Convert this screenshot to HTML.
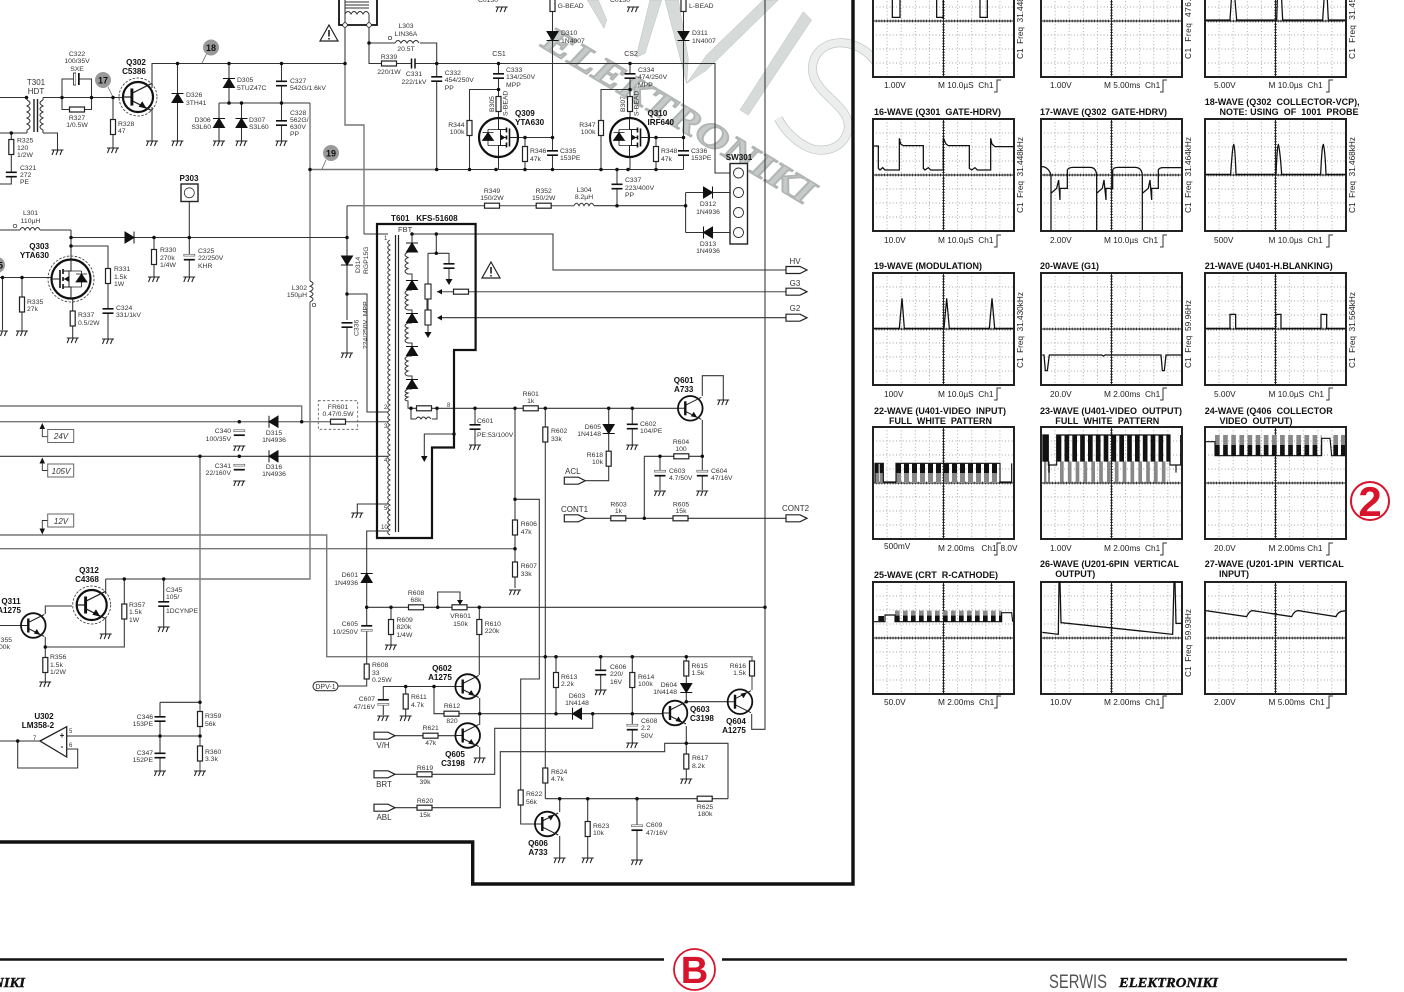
<!DOCTYPE html>
<html><head><meta charset="utf-8"><style>
html,body{margin:0;padding:0;background:#fff}
svg{display:block;filter:blur(.3px)}
text{font-family:"Liberation Sans",sans-serif;white-space:pre;fill:#333;font-size:6.8px}
.b{font-weight:bold;font-size:8.1px;fill:#111}
.c{text-anchor:middle}
.e{text-anchor:end}
.n{font-size:8px}
.w{font-weight:bold;font-size:9px;fill:#111}
.s{font-size:8.3px;fill:#222}
.p{font-size:6px}
</style></head><body>
<svg width="1404" height="992" viewBox="0 0 1404 992" xmlns="http://www.w3.org/2000/svg">
<defs>
<g id="gnd" fill="none" stroke="#222" stroke-width="1.05"><path d="M-6 0H6M-3.5 0L-5.5 5M.5 0L-1.5 5M4.5 0L2.5 5"/></g>
<rect id="rv" x="-2.5" y="-7.5" width="5" height="15" fill="#fff" stroke="#222" stroke-width="1.2"/>
<rect id="rh" x="-7.5" y="-2.5" width="15" height="5" fill="#fff" stroke="#222" stroke-width="1.2"/>
<g id="cp"><rect x="-5.5" y="-2.2" width="11" height="4.4" fill="#fff"/><path d="M-5.5 -2.2H5.5M-5.5 2.2H5.5" stroke="#111" stroke-width="1.6" fill="none"/></g>
<g id="ce"><rect x="-5.5" y="-3.5" width="11" height="6" fill="#fff"/><rect x="-5.5" y="-3.2" width="11" height="1.8" fill="#fff" stroke="#666" stroke-width=".7"/><path d="M-5.5 2.2H5.5" stroke="#111" stroke-width="1.7"/></g>
<path id="du" d="M-5.5 4.5H5.5L0 -4.5ZM-6 -4.5H6" fill="#111" stroke="#111" stroke-width="1"/>
<path id="dd" d="M-5.5 -4.5H5.5L0 4.5ZM-6 4.5H6" fill="#111" stroke="#111" stroke-width="1"/>
<path id="dr" d="M-4.5 -5.5V5.5L4.5 0ZM4.5 -6V6" fill="#111" stroke="#111" stroke-width="1"/>
<path id="dl" d="M4.5 -5.5V5.5L-4.5 0ZM-4.5 -6V6" fill="#111" stroke="#111" stroke-width="1"/>
<g id="q"><circle r="12.3" fill="#fff" stroke="#111" stroke-width="1.8"/><path d="M-12 0H-5M-5 -3L11 -11M-5 3L11 11" stroke="#222" stroke-width="1" fill="none"/><path d="M-5 -7V7" stroke="#111" stroke-width="2.4"/><path d="M7 9.5L.5 8L3.5 3.5Z" fill="#111"/></g>
<g id="f"><circle r="19.5" fill="#fff" stroke="#111" stroke-width="2.2"/><path d="M0 -19V-8H8M0 19V8H8M8 0H2V8M2 -8V0" stroke="#222" stroke-width="1" fill="none"/><path d="M8 -10V-5M8 -2V2M8 5V10M11 -9V9" stroke="#111" stroke-width="1.6" fill="none"/><path d="M11 0H19" stroke="#222"/><path d="M2 -3V3L7 0Z" fill="#111"/><path d="M-16 3H-5L-10.5 -5ZM-16 -5H-5M-10.5 -8V8" fill="#111" stroke="#111" stroke-width=".8"/><path d="M-10.5 -8H0M-10.5 8H0" stroke="#222" stroke-width=".8"/></g>
<path id="tg" d="M0 -3.5H14L21 0 14 3.5H0Z" fill="#fff" stroke="#222" stroke-width="1.2"/>
<path id="c5" d="M0 0q-4.5 2.5 0 5q-4.5 2.5 0 5q-4.5 2.5 0 5q-4.5 2.5 0 5q-4.5 2.5 0 5" fill="none" stroke="#333" stroke-width="1"/>
<g id="warn"><path d="M0 -8L9 8H-9Z" fill="#fff" stroke="#222" stroke-width="1.2"/><path d="M0 -3V3.5M0 5V6.5" stroke="#111" stroke-width="1.5"/></g>
<g id="sc">
<rect x="0" y="0" width="141" height="112" fill="#fff"/>
<path d="M14.1 0V112M28.2 0V112M42.3 0V112M56.4 0V112M84.6 0V112M98.7 0V112M112.8 0V112M126.9 0V112M0 14H141M0 28H141M0 42H141M0 70H141M0 84H141M0 98H141" stroke="#999" stroke-width=".9" stroke-dasharray=".9 2.4" fill="none"/>
<path d="M70.5 0V112M0 56H141" stroke="#222" stroke-width="1" fill="none"/>
<path d="M70.5 0V112M0 56H141" stroke="#222" stroke-width="2.8" stroke-dasharray=".8 2" fill="none"/>
<rect x="0" y="0" width="141" height="112" fill="none" stroke="#222" stroke-width="2"/>
</g>
<path id="trg" d="M0 12H3V0H7" fill="none" stroke="#333" stroke-width="1"/>
</defs>

<!-- watermark -->
<g transform="translate(530 0) scale(.3333)" fill="#d6dad8" stroke="#b9bebc" stroke-width="1.5">
<path d="M172 0L222 85L230 60L205 0Z"/>
<path d="M360 0H395L345 160L318 172Z"/>
<path d="M405 0H445L475 175L470 250Z"/>
<path d="M470 250L530 165L700 0H745L530 210Z"/>
<path d="M630 330L820 35L845 60L655 345Z"/>
<path d="M1040 190C1000 130 930 115 885 140C845 165 835 215 865 255C895 300 960 330 955 385C945 445 880 465 830 440C790 420 760 385 745 355" fill="none" stroke="#bfc4c2" stroke-width="27"/>
<path d="M1040 190C1000 130 930 115 885 140C845 165 835 215 865 255C895 300 960 330 955 385C945 445 880 465 830 440C790 420 760 385 745 355" fill="none" stroke="#eceeed" stroke-width="23"/>
</g>
<text x="540" y="46" transform="rotate(31 540 46)" textLength="310" lengthAdjust="spacingAndGlyphs" style="font-family:'Liberation Serif',serif;font-weight:bold;font-style:italic;font-size:36px;fill:#c6cbc9;stroke:#b0b5b3;stroke-width:1.6">ELEKTRONIKI</text>

<!-- grey bus wires -->
<path fill="none" stroke="#777" stroke-width="1.4" d="M0 406H301.7V421.7M0 421.7H388M0 535H326.7V656.7H752V690M0 548.7H515M200 456.3V771M66.7 736H200M437 291.7H786M310 103V281M310 302V579H105.7M310 169.5H436.7M347 205.7H574M345 63.5V125H364V234"/>
<!-- wires -->
<path fill="none" stroke="#333" stroke-width="1.05" d="
M0 97.5H27M43 97.5H113M0 133H27M43 133H57.5V151M11.3 133V184H0
M62 97.5V109.5H91.5V97.5M62 97.5V79H91.5V97.5
M113 97.5H123M113 97.5V148
M152 88V63.5H345M152 107V141
M177.5 63.5V141M229 63.5V103M219 103H310M219 103V141M241.5 103V141M281.5 63.5V141
M345 0V63.5M364 234H388
M369 25V63.5H437M369 43H395M420 43H437M436.7 42.7V169.5
M436.7 169.5H683.5
M436.7 63.5H715V173H730
M498.5 63.5V130M498.5 89.5H469.5V169.5M498.5 150V169.5M516 137.5H552.5M525 137.5V169.5M552.5 0V169.5
M630 63.5V130M630 89.5H601V169.5M630 150V169.5M648 137.5H683.5M656 137.5V169.5M683.5 0V169.5
M617 169.5V205.7M574 205.7H574M594 205.7H685.6M347 205.7V320M347 327V353
M685.6 192.5V232.5M685.6 192.5H733M685.6 232.5H733
M71 230V279M0 230H20M40 230H71M71 246H108V340M71 237.5H347M189.3 198V277M154 237.5V277
M0 277.5H55M2.5 277.5V330M22 277.5V331M72.7 298V338
M347 294H367V412H388
M412 234H553V270H786M412 234V243
M436.3 234V253.3M428 253.3H449V280M428 253.3V332
M438 317.7H786
M437 408.3H678M411 408.3H437M411 408.3V419H416M432 419H437V408.3
M475 408.3V447M515 408.3V588M515 499.3H539.3V679H520.7V824H535M545.3 408.3V798.7
M608.7 408.3V480.7H585.7M632.3 408.3V446
M702.3 396V375.7H723.3V400M702.3 420V490M644.3 456.3H702.3M660 456.3V490M644.3 456.3V518.3M585 518.3H786
M454 434H424.3V456
M0 456.3H388
M160 702.3H200M160 702.3V771
M0 741H40M17.7 741V768H77.7V749H66.7
M0 625.5H21M45.3 614V606H72M45.3 637V682M45.3 647H124.3V579M105.7 579V594M105.7 617V634M163.7 579V627
M388 504H357.3V513M388 531H366.7V686H338
M366.7 607.3H765M765 0V729.3H751.7V714M391 607.3V645M437.7 607.3V592H460V604
M479.3 607.3V675M479.7 698V725M479.7 747V758
M455 686.5H383.3V715M405.7 686.5V716M434 686.5V713.7H592.7M395 735.7H455
M395 774.3H494.7V728.3H592.7V713.7M395 807.7H500.3V751.7H664.7V743.3H728V798.7
M592.7 713.7H663M556 656.7V713.7M600.7 656.7V690M632.3 656.7V743M686.3 656.7V701.7H727.7M686.3 726V779
M545.3 798.7H728M559.7 798.7V812M559.7 836V858M587.7 798.7V858M637 798.7V860
M427 299V310"/>
<!-- inductors -->
<path fill="none" stroke="#333" stroke-width="1" d="M20 230q2.5 -5 5 0q2.5 -5 5 0q2.5 -5 5 0q2.5 -5 5 0
M395 43q3 -5 6 0q3 -5 6 0q3 -5 6 0q3 -5 6 0
M574 205.7q2.5 -5 5 0q2.5 -5 5 0q2.5 -5 5 0q2.5 -5 5 0
M416 419q2.5 -4 5 0q2.5 -4 5 0q2.5 -4 5 0
M310 281q6 2.6 0 5.2q6 2.6 0 5.2q6 2.6 0 5.2q6 2.6 0 5.2
M412 252H408q-6 3 0 5.5q-6 3 0 5.5q-6 3 0 5.5q-6 3 0 5.5H412V280
M412 290H408q-6 3 0 5q-6 3 0 5q-6 3 0 5q-6 3 0 5H412V313
M412 323H408q-6 3 0 5q-6 3 0 5q-6 3 0 5q-6 3 0 5H412V346
M412 356H408q-6 3 0 5q-6 3 0 5q-6 3 0 5q-6 3 0 5H412V379
M412 389H408q-6 3 0 4q-6 3 0 4q-6 3 0 4V408.3H411
M27 100q6 3 0 6q6 3 0 6q6 3 0 6q6 3 0 6q6 3 0 6
M43 100q-6 3 0 6q-6 3 0 6q-6 3 0 6q-6 3 0 6q-6 3 0 6
M27 97.5V100M27 130V133M43 97.5V100M43 130V133"/>
<path d="M34 99V132M37.5 99V132" stroke="#222" stroke-width="1.4" fill="none"/>
<use href="#c5" x="390" y="240"/><use href="#c5" x="390" y="265"/><use href="#c5" x="390" y="290"/><use href="#c5" x="390" y="315"/><use href="#c5" x="390" y="340"/><use href="#c5" x="390" y="365"/><use href="#c5" x="390" y="390"/><use href="#c5" x="390" y="415"/><use href="#c5" x="390" y="440"/><use href="#c5" x="390" y="465"/><use href="#c5" x="390" y="490"/><use href="#c5" x="390" y="510"/>
<path d="M395.5 235V532M398.5 235V532" stroke="#222" stroke-width="1.2" fill="none"/>
<circle cx="15" cy="226" r="1.7" fill="#fff" stroke="#333" stroke-width=".7"/><circle cx="390" cy="38" r="1.7" fill="#fff" stroke="#333" stroke-width=".7"/><circle cx="314" cy="305" r="1.7" fill="#fff" stroke="#333" stroke-width=".7"/>

<!-- frames -->
<path d="M377 224H475.6V350H454V447.5H432V538H377Z" fill="none" stroke="#111" stroke-width="2.2"/>
<path d="M0 842H472.7V884H853V0" fill="none" stroke="#111" stroke-width="3.4"/>
<path d="M339 -5V25H377V-5" fill="none" stroke="#111" stroke-width="1.8"/>
<path d="M345 2H369M345 5H369M345 8H369" stroke="#333" stroke-width=".9"/>
<path d="M345 25V14q3 -5 6 0q3 -5 6 0q3 -5 6 0q3 -5 6 0V25" fill="none" stroke="#333" stroke-width="1"/>
<circle cx="345" cy="25" r="2.3" fill="#fff" stroke="#222" stroke-width=".8"/><circle cx="369" cy="25" r="2.3" fill="#fff" stroke="#222" stroke-width=".8"/>
<rect x="318.3" y="400.7" width="39.4" height="28.6" fill="none" stroke="#555" stroke-width=".8" stroke-dasharray="2.5 2"/>
<use href="#warn" x="329" y="33"/><use href="#warn" x="491" y="270"/>

<!-- P303 & SW301 -->
<rect x="181" y="184" width="17" height="17.5" fill="#fff" stroke="#222" stroke-width="1.4"/><circle cx="189.3" cy="192.8" r="5" fill="#fff" stroke="#333" stroke-width=".8"/>
<rect x="730" y="163.5" width="17.5" height="80.5" fill="#fff" stroke="#222" stroke-width="1.4"/>
<g fill="#fff" stroke="#333" stroke-width=".9"><circle cx="738.5" cy="173" r="5"/><circle cx="738.5" cy="192.5" r="5"/><circle cx="738.5" cy="212.5" r="5"/><circle cx="738.5" cy="232.5" r="5"/></g>

<!-- U302 -->
<path d="M40 741L66.7 726.7V757Z" fill="#fff" stroke="#222" stroke-width="1.3"/>

<!-- resistors -->
<use href="#rv" x="11.3" y="147"/><use href="#rh" x="77" y="109.5"/><use href="#rv" x="113" y="127"/><use href="#rh" x="389" y="63.5"/>
<use href="#rv" x="469.5" y="128"/><use href="#rv" x="498.5" y="104"/><use href="#rv" x="525" y="154"/>
<use href="#rv" x="601" y="128"/><use href="#rv" x="630" y="104"/><use href="#rv" x="656" y="154"/>
<use href="#rh" x="492" y="205.7"/><use href="#rh" x="543.7" y="205.7"/>
<use href="#rv" x="154" y="257"/><use href="#rv" x="108" y="276"/><use href="#rv" x="22" y="304.5"/><use href="#rv" x="72.7" y="318.5"/>
<use href="#rv" x="552.5" y="4"/><use href="#rv" x="683.5" y="4"/>
<rect x="425" y="284" width="6" height="15" fill="#fff" stroke="#222" stroke-width="1.1"/><rect x="425" y="310" width="6" height="15" fill="#fff" stroke="#222" stroke-width="1.1"/>
<use href="#rh" x="461" y="291.7"/><use href="#rh" x="424" y="408.3"/><use href="#rh" x="338" y="421.7"/>
<use href="#rh" x="530.7" y="408.3"/><use href="#rv" x="545.3" y="434.5"/><use href="#rv" x="608.7" y="458.7"/><use href="#rh" x="681.3" y="456.3"/><use href="#rh" x="618.3" y="518.3"/><use href="#rh" x="680.5" y="518.3"/>
<use href="#rv" x="515" y="527.5"/><use href="#rv" x="515" y="569.5"/>
<use href="#rh" x="416" y="607.3"/><use href="#rh" x="459.5" y="607.3"/><use href="#rv" x="391" y="627"/><use href="#rv" x="479.3" y="627"/><use href="#rv" x="366.7" y="671.5"/>
<use href="#rv" x="405.7" y="701.5"/><use href="#rh" x="451.5" y="713.7"/><use href="#rh" x="430.5" y="735.7"/><use href="#rh" x="424.5" y="774.3"/><use href="#rh" x="424.5" y="807.7"/>
<use href="#rv" x="556" y="680"/><use href="#rv" x="632.3" y="680"/><use href="#rv" x="686.3" y="668.5"/><use href="#rv" x="752" y="668.5"/><use href="#rv" x="686.3" y="761.5"/>
<use href="#rv" x="545.3" y="775.5"/><use href="#rv" x="520.7" y="797.5"/><use href="#rv" x="587.7" y="829"/><use href="#rh" x="704.7" y="798.7"/>
<use href="#rv" x="124.3" y="611.5"/><use href="#rv" x="45.3" y="665"/><use href="#rv" x="200" y="719"/><use href="#rv" x="200" y="753.5"/>

<!-- caps -->
<rect x="73.5" y="73" width="2.5" height="12" fill="#fff" stroke="#222" stroke-width=".8"/><rect x="78" y="73" width="1.7" height="12" fill="#111"/>
<rect x="76" y="71" width="2" height="16" fill="#fff"/>
<rect x="411" y="60" width="4" height="7" fill="#fff"/><path d="M411.5 58.5V68.5M415 58.5V68.5" stroke="#111" stroke-width="1.5"/>
<use href="#cp" x="11.3" y="174.5"/><use href="#cp" x="281.5" y="83.5"/><use href="#cp" x="281.5" y="123"/><use href="#cp" x="436.7" y="79"/><use href="#cp" x="498.5" y="76"/><use href="#cp" x="630" y="76"/><use href="#cp" x="552.5" y="153"/><use href="#cp" x="683.5" y="153"/><use href="#cp" x="617" y="186.5"/>
<use href="#cp" x="108" y="311"/><use href="#ce" x="189.3" y="257.5"/><use href="#cp" x="347" y="325"/><use href="#cp" x="449" y="266"/>
<use href="#cp" x="475" y="427"/><use href="#cp" x="632.3" y="426.5"/><use href="#ce" x="660" y="473.5"/><use href="#ce" x="702.3" y="473.5"/>
<use href="#ce" x="366.7" y="628" transform="rotate(180 366.7 628)"/><use href="#ce" x="383.3" y="702" transform="rotate(180 383.3 702)"/><use href="#cp" x="600.7" y="672.5"/><use href="#ce" x="632.3" y="727.5"/><use href="#ce" x="637" y="828"/>
<use href="#ce" x="239.3" y="433"/><use href="#ce" x="239.3" y="467.5"/><use href="#cp" x="163.7" y="604"/><use href="#cp" x="160" y="719"/><use href="#cp" x="160" y="755.5"/>

<!-- diodes -->
<use href="#du" x="177.5" y="98"/><use href="#du" x="229" y="83"/><use href="#du" x="219" y="123"/><use href="#du" x="241.5" y="123"/>
<use href="#dd" x="552.5" y="36"/><use href="#dd" x="683.5" y="36"/><use href="#dr" x="129.5" y="237.5"/><use href="#dd" x="347" y="260.5"/>
<use href="#dr" x="708" y="192.5"/><use href="#dl" x="708" y="232.5"/>
<use href="#du" x="412" y="247.5"/><use href="#du" x="412" y="285"/><use href="#du" x="412" y="318"/><use href="#du" x="412" y="351"/><use href="#du" x="412" y="384"/>
<use href="#dd" x="608.7" y="429"/><use href="#du" x="366.7" y="578"/><use href="#dl" x="577" y="713.7"/><use href="#dd" x="686.3" y="688"/>
<use href="#dl" x="273.5" y="421.7"/><use href="#dl" x="273.5" y="456.3"/>

<!-- transistors -->
<circle cx="138" cy="97" r="19" fill="none" stroke="#333" stroke-width=".8" stroke-dasharray="2.5 1.5"/>
<use href="#q" transform="translate(138 97) scale(1.22)"/>
<circle cx="91.7" cy="605" r="19" fill="none" stroke="#333" stroke-width=".8" stroke-dasharray="2.5 1.5"/>
<use href="#q" transform="translate(91.7 605) scale(1.22)"/>
<circle cx="71" cy="279" r="23" fill="none" stroke="#333" stroke-width=".8" stroke-dasharray="2.5 1.5"/>
<use href="#f" transform="translate(71 279) scale(-1 1)"/>
<use href="#f" x="498.5" y="137.5"/><use href="#f" x="629.5" y="137.5"/>
<use href="#q" x="690.3" y="408.3"/><use href="#q" x="467.7" y="686.5"/><use href="#q" x="467.7" y="735.5"/><use href="#q" x="675" y="713"/>
<use href="#q" transform="translate(740 701.7) scale(1 -1)"/><use href="#q" transform="translate(547.3 824) scale(1 -1)"/><use href="#q" x="33.3" y="625.5"/>

<!-- arrows -->
<g fill="#111">
<path d="M437 291.7L442 289V294.5Z"/><path d="M437 317.7L442 315V320.5Z"/><path d="M449 285L445.5 279H452.5Z"/><path d="M428 338L424.5 332H431.5Z"/><path d="M424.3 462L421 456H427.5Z"/><path d="M460 605L457 600H463Z"/>
<path d="M42.3 423L39.5 429H45Z"/><path d="M42.3 457.5L39.5 463.5H45Z"/><path d="M42.3 534.5L39.5 528.5H45Z"/>
</g>
<path d="M42.3 428V436.7H47.7M42.3 463V470.5H47.7M42.3 529V520.5H47.7" fill="none" stroke="#333" stroke-width=".9"/>
<g fill="#fff" stroke="#666" stroke-width="1"><rect x="47.7" y="429.5" width="26" height="13"/><rect x="47.7" y="464" width="26" height="13"/><rect x="47.7" y="514" width="26" height="13"/></g>
<use href="#tg" x="786" y="270"/><use href="#tg" x="786" y="291.7"/><use href="#tg" x="786" y="317.7"/><use href="#tg" x="564.3" y="480.7"/><use href="#tg" x="564.3" y="518.3"/><use href="#tg" x="786" y="518.3"/><use href="#tg" x="374" y="735.7"/><use href="#tg" x="374" y="774.3"/><use href="#tg" x="374" y="807.7"/>
<rect x="313" y="681.7" width="25" height="9" rx="4.5" fill="#fff" stroke="#222" stroke-width="1"/>

<!-- bubbles -->
<path d="M108 87L113 97M207 53L202 63M326 160L322 169" stroke="#666" stroke-width=".8"/>
<circle cx="103" cy="80" r="8" fill="#999"/><circle cx="211" cy="47.5" r="8" fill="#999"/><circle cx="331" cy="153" r="8" fill="#999"/><circle cx="-3" cy="265" r="8" fill="#999"/>
<text class="b c" x="103" y="83.5" style="font-size:9px">17</text><text class="b c" x="211" y="51" style="font-size:9px">18</text><text class="b c" x="331" y="156.5" style="font-size:9px">19</text><text class="b" x="-2" y="268.5" style="font-size:9px">5</text>

<!-- dots -->
<path fill="none" stroke="#111" stroke-width="3.5" stroke-linecap="round" d="M26.5 97.5h0M62 97.5h0M91.5 97.5h0M113 97.5h0M11.3 133h0M177.5 63.5h0M229 63.5h0M281.5 63.5h0M345 63.5h0M229 103h0M241.5 103h0M281.5 103h0M310 169.5h0M369 43h0M436.7 63.5h0M436.7 169.5h0M498.5 63.5h0M498.5 89.5h0M469.5 169.5h0M496 169.5h0M525 169.5h0M552.5 169.5h0M525 137.5h0M552.5 137.5h0M630 63.5h0M630 89.5h0M601 169.5h0M628 169.5h0M656 169.5h0M617 169.5h0M656 137.5h0M683.5 137.5h0M617 205.7h0M685.6 205.7h0M71 237.5h0M71 246h0M154 237.5h0M189.3 237.5h0M347 237.5h0M347 294h0M2.5 277.5h0M22 277.5h0M412 234h0M436.3 234h0M436.3 253.3h0
M411 408.3h0M437 408.3h0M475 408.3h0M515 408.3h0M545.3 408.3h0M608.7 408.3h0M632.3 408.3h0M702.3 456.3h0M660 456.3h0M644.3 518.3h0M515 499.3h0M515 548.7h0M454 434h0M301.7 421.7h0M239.3 421.7h0M239.3 456.3h0M200 456.3h0M366.7 607.3h0M391 607.3h0M437.7 607.3h0M479.3 607.3h0M765 607.3h0M405.7 686.5h0M434 686.5h0M479.7 713.7h0M545.3 656.7h0M556 656.7h0M600.7 656.7h0M632.3 656.7h0M686.3 656.7h0M556 713.7h0M592.7 713.7h0M632.3 713.7h0M686.3 701.7h0M686.3 743.3h0M559.7 798.7h0M587.7 798.7h0M637 798.7h0M124.3 579h0M163.7 579h0M45.3 647h0M200 702.3h0M200 736h0M160 736h0M17.7 741h0"/>

<!-- grounds -->
<use href="#gnd" x="57.5" y="150"/><use href="#gnd" x="113" y="148"/><use href="#gnd" x="152" y="141"/><use href="#gnd" x="177.5" y="141"/><use href="#gnd" x="219" y="141"/><use href="#gnd" x="241.5" y="141"/><use href="#gnd" x="281.5" y="141"/><use href="#gnd" x="154" y="277"/><use href="#gnd" x="189.3" y="277"/><use href="#gnd" x="22" y="331"/><use href="#gnd" x="72.7" y="338"/><use href="#gnd" x="108" y="339"/><use href="#gnd" x="347" y="353"/><use href="#gnd" x="2" y="331"/><use href="#gnd" x="501.7" y="7"/><use href="#gnd" x="633" y="7"/>
<use href="#gnd" x="475" y="445"/><use href="#gnd" x="723.3" y="400"/><use href="#gnd" x="632.3" y="445"/><use href="#gnd" x="660" y="491"/><use href="#gnd" x="702.3" y="491"/><use href="#gnd" x="357.3" y="513"/><use href="#gnd" x="515" y="590"/><use href="#gnd" x="391" y="645"/><use href="#gnd" x="383.3" y="716"/><use href="#gnd" x="405.7" y="716"/><use href="#gnd" x="479.7" y="758"/><use href="#gnd" x="600.7" y="690"/><use href="#gnd" x="632.3" y="743"/><use href="#gnd" x="686.3" y="779"/><use href="#gnd" x="559.7" y="858"/><use href="#gnd" x="587.7" y="858"/><use href="#gnd" x="637" y="860"/>
<use href="#gnd" x="239.3" y="446"/><use href="#gnd" x="239.3" y="481"/><use href="#gnd" x="105.7" y="634"/><use href="#gnd" x="163.7" y="627"/><use href="#gnd" x="45.3" y="682"/><use href="#gnd" x="160" y="771"/><use href="#gnd" x="200" y="771"/>

<!-- labels: top-left -->
<text class="c" x="77" y="56">C322</text><text class="c" x="77" y="63">100/35V</text><text class="c" x="77" y="71">SXE</text>
<text class="c n" x="36" y="85">T301</text><text class="c n" x="36" y="94">HDT</text>
<text class="b c" x="136" y="65">Q302</text><text class="b c" x="134" y="74">C5386</text>
<text class="c" x="77" y="120">R327</text><text class="c" x="77" y="127">1/0.5W</text>
<text x="118" y="126">R328</text><text x="118" y="133">47</text>
<text x="17" y="142.5">R325</text><text x="17" y="150">120</text><text x="17" y="157">1/2W</text><text x="20" y="170">C321</text><text x="20" y="177">272</text><text x="20" y="184">PE</text>
<text x="186" y="97">D326</text><text x="186" y="105">3TH41</text><text x="237" y="82">D305</text><text x="237" y="90">5TUZ47C</text>
<text class="e" x="210.7" y="122">D306</text><text class="e" x="211" y="129">S3L60</text><text x="249" y="122">D307</text><text x="249" y="129">S3L60</text>
<text x="290" y="83">C327</text><text x="290" y="90">542G/1.6kV</text><text x="290" y="115">C328</text><text x="290" y="122">562G/</text><text x="290" y="129">630V</text><text x="290" y="136">PP</text>
<text class="c" x="406" y="28">L303</text><text class="c" x="406" y="36">LIN36A</text><text class="c" x="406" y="51">20.5T</text><text class="c" x="389" y="59">R339</text><text class="c" x="389" y="74">220/1W</text><text class="c" x="414" y="76">C331</text><text class="c" x="414" y="84">222/1kV</text>
<text class="b c" x="189" y="181">P303</text><text class="c" x="30.5" y="215">L301</text><text class="c" x="30.5" y="223">110µH</text><text class="b e" x="49" y="249">Q303</text><text class="b e" x="49" y="258">YTA630</text>
<text x="160" y="252">R330</text><text x="160" y="260">270k</text><text x="160" y="267">1/4W</text><text x="198" y="253">C325</text><text x="198" y="260">22/250V</text><text x="198" y="268">KHR</text>
<text x="114" y="271">R331</text><text x="114" y="279">1.5k</text><text x="114" y="286">1W</text><text x="116" y="310">C324</text><text x="116" y="317">331/1kV</text>
<text x="27" y="304">R335</text><text x="27" y="311">27k</text><text x="78" y="317">R337</text><text x="78" y="325">0.5/2W</text>
<text class="e" x="307" y="290">L302</text><text class="e" x="307" y="297">150µH</text>
<text transform="translate(360 273) rotate(-90)">D314</text><text transform="translate(368 274) rotate(-90)">RGP15G</text>
<text transform="translate(358.5 336) rotate(-90)">C336</text><text transform="translate(367.5 349) rotate(-90)">224/250V  MPP</text>
<text class="b" x="391" y="221">T601   KFS-51608</text><text class="n" x="398" y="232" style="font-size:7.5px">FBT</text>
<text class="p" x="384" y="240">1</text><text class="p" x="384" y="409">2</text><text class="p" x="384" y="428">3</text><text class="p" x="384" y="462">4</text><text class="p" x="384" y="510">5</text><text class="p" x="381" y="529">10</text><text class="p" x="447" y="407">8</text>

<!-- labels: top-mid -->
<text class="c" x="499" y="56" style="font-size:7px">CS1</text><text x="506" y="72">C333</text><text x="506" y="79">134/250V</text><text x="506" y="87">MPP</text><text x="444.7" y="75">C332</text><text x="444.7" y="82">454/250V</text><text x="444.7" y="90">PP</text>
<text transform="translate(494 112) rotate(-90)">B305</text><text transform="translate(507.5 116) rotate(-90)">S-BEAD</text><text class="b" x="515" y="116">Q309</text><text class="b" x="515" y="125">YTA630</text><text class="e" x="464.5" y="127">R344</text><text class="e" x="464.5" y="134">100k</text><text x="530" y="153">R346</text><text x="530" y="161">47k</text><text x="560" y="153">C335</text><text x="560" y="160">153PE</text>
<text x="557.6" y="8">G-BEAD</text><text x="561" y="35">D310</text><text x="561" y="43">1N4007</text><text class="e" x="498" y="2">C0130</text><text class="e" x="630" y="2">C0130</text>
<text class="c" x="631" y="56" style="font-size:7px">CS2</text><text x="638" y="72">C334</text><text x="638" y="79">474/250V</text><text x="638" y="87">MPP</text><text transform="translate(625 112) rotate(-90)">B307</text><text transform="translate(638.5 116) rotate(-90)">S-BEAD</text><text class="b" x="647.5" y="116">Q310</text><text class="b" x="647.5" y="125">IRF640</text>
<text class="e" x="595.5" y="127">R347</text><text class="e" x="595.5" y="134">100k</text><text x="661" y="153">R348</text><text x="661" y="161">47k</text><text x="691" y="153">C336</text><text x="691" y="160">153PE</text><text x="692" y="35">D311</text><text x="692" y="43">1N4007</text><text x="689" y="8">L-BEAD</text>
<text x="625" y="182">C337</text><text x="625" y="190">223/400V</text><text x="625" y="197">PP</text><text class="c" x="492" y="193">R349</text><text class="c" x="492" y="200">150/2W</text><text class="c" x="543.7" y="193">R352</text><text class="c" x="543.7" y="200">150/2W</text><text class="c" x="584" y="192">L304</text><text class="c" x="584" y="199">8.2µH</text>
<text class="c" x="708" y="206">D312</text><text class="c" x="708" y="214">1N4936</text><text class="c" x="708" y="246">D313</text><text class="c" x="708" y="253">1N4936</text><text class="b c" x="739" y="160">SW301</text>
<text class="c n" x="795" y="264">HV</text><text class="c n" x="795" y="286">G3</text><text class="c n" x="795" y="311">G2</text>

<!-- labels: mid -->
<text class="c" x="338" y="409">FR601</text><text class="c" x="338" y="416">0.47/0.5W</text><text class="c" x="530.7" y="396">R601</text><text class="c" x="530.7" y="403">1k</text><text x="477" y="423">C601</text><text x="477" y="437">PE:53/100V</text><text x="551" y="433">R602</text><text x="551" y="441">33k</text>
<text class="e" x="601" y="429">D605</text><text class="e" x="601" y="436">1N4148</text><text class="e" x="603" y="457">R618</text><text class="e" x="603" y="464">10k</text><text x="640" y="426">C602</text><text x="640" y="433">104/PE</text><text class="b c" x="683.7" y="383">Q601</text><text class="b c" x="683.7" y="392">A733</text>
<text class="c" x="681" y="444">R604</text><text class="c" x="681" y="451">100</text><text x="669" y="473">C603</text><text x="669" y="480">4.7/50V</text><text x="711" y="473">C604</text><text x="711" y="480">47/16V</text>
<text class="n" x="565" y="474">ACL</text><text class="n" x="561" y="512">CONT1</text><text class="n" x="782" y="511">CONT2</text><text class="c" x="618.5" y="506.5">R603</text><text class="c" x="618.5" y="513">1k</text><text class="c" x="681" y="506.5">R605</text><text class="c" x="681" y="513">15k</text>
<text x="520.7" y="526">R606</text><text x="520.7" y="534">47k</text><text x="520.7" y="568">R607</text><text x="520.7" y="576">33k</text><text class="e" x="358" y="577">D601</text><text class="e" x="358" y="585">1N4936</text>

<!-- labels: lower -->
<text class="c" x="416" y="595">R608</text><text class="c" x="416" y="602">68k</text><text class="c" x="460.5" y="618">VR601</text><text class="c" x="460.5" y="626">150k</text><text x="396.5" y="622">R609</text><text x="396.5" y="629">820k</text><text x="396.5" y="637">1/4W</text><text x="484.7" y="626">R610</text><text x="484.7" y="633">220k</text>
<text class="e" x="358" y="626">C605</text><text class="e" x="358" y="634">10/250V</text><text x="372" y="667">R608</text><text x="372" y="675">33</text><text x="372" y="682">0.25W</text><text class="c" x="325.5" y="689" style="font-size:7px">DPV-1</text>
<text class="b c" x="442" y="671">Q602</text><text class="b c" x="440" y="680">A1275</text><text class="e" x="375" y="701">C607</text><text class="e" x="375" y="709">47/16V</text><text x="411" y="699">R611</text><text x="411" y="707">4.7k</text><text class="c" x="452" y="708">R612</text><text class="c" x="452" y="723">820</text>
<text class="c" x="430.7" y="730">R621</text><text class="c" x="430.7" y="745">47k</text><text class="c n" x="383" y="748">V/H</text><text class="b c" x="455" y="757">Q605</text><text class="b c" x="453" y="766">C3198</text><text class="c" x="425" y="770">R619</text><text class="c" x="425" y="784">39k</text><text class="c n" x="384" y="787">BRT</text><text class="c" x="425" y="803">R620</text><text class="c" x="425" y="817">15k</text><text class="c n" x="384" y="820">ABL</text>
<text class="c" x="577" y="698">D603</text><text class="c" x="577" y="705">1N4148</text><text x="561" y="679">R613</text><text x="561" y="686">2.2k</text><text x="610" y="669">C606</text><text x="610" y="676">220/</text><text x="610" y="684">16V</text><text x="638" y="679">R614</text><text x="638" y="686">100k</text><text x="691.5" y="668">R615</text><text x="691.5" y="675">1.5k</text><text class="e" x="746" y="668">R616</text><text class="e" x="746" y="675">1.5k</text><text class="e" x="677" y="687">D604</text><text class="e" x="677" y="694">1N4148</text>
<text class="b" x="690" y="712">Q603</text><text class="b" x="690" y="721">C3198</text><text class="b c" x="736" y="724">Q604</text><text class="b c" x="734" y="733">A1275</text><text x="641" y="723">C608</text><text x="641" y="730">2.2</text><text x="641" y="738">50V</text><text x="692" y="760">R617</text><text x="692" y="768">8.2k</text><text x="551" y="774">R624</text><text x="551" y="781">4.7k</text><text x="526" y="796">R622</text><text x="526" y="804">56k</text><text class="c" x="705" y="809">R625</text><text class="c" x="705" y="816">180k</text><text class="b c" x="538" y="846">Q606</text><text class="b c" x="538" y="855">A733</text><text x="593" y="828">R623</text><text x="593" y="835">10k</text><text x="646" y="827">C609</text><text x="646" y="835">47/16V</text>

<!-- labels: left -->
<text class="e" x="231" y="433">C340</text><text class="e" x="231" y="441">100/35V</text><text class="c" x="274" y="435">D315</text><text class="c" x="274" y="442">1N4936</text><text class="e" x="231" y="468">C341</text><text class="e" x="231" y="475">22/160V</text><text class="c" x="274" y="469">D316</text><text class="c" x="274" y="476">1N4936</text>
<text class="c n" x="61" y="439" style="font-style:italic">24V</text><text class="c n" x="61" y="474" style="font-style:italic">105V</text><text class="c n" x="61" y="524" style="font-style:italic">12V</text>
<text class="b c" x="89" y="573">Q312</text><text class="b c" x="87" y="582">C4368</text><text class="b c" x="11" y="604">Q311</text><text class="b e" x="21" y="613">A1275</text><text x="129" y="607">R357</text><text x="129" y="614">1.5k</text><text x="129" y="622">1W</text><text x="166" y="592">C345</text><text x="166" y="599">105/</text><text x="166" y="613">1DCYNPE</text>
<text class="e" x="12" y="642">R355</text><text class="e" x="10" y="649">100k</text><text x="50" y="659">R356</text><text x="50" y="667">1.5k</text><text x="50" y="674">1/2W</text>
<text class="b c" x="44" y="719">U302</text><text class="b c" x="38" y="728">LM358-2</text><text class="p c" x="34.7" y="740">7</text><text class="p" x="69" y="733">5</text><text class="p" x="69" y="747">6</text><text class="b c" x="62" y="738">+</text><text class="b c" x="62" y="749">-</text>
<text class="e" x="153" y="719">C346</text><text class="e" x="153" y="726">153PE</text><text class="e" x="153" y="755">C347</text><text class="e" x="153" y="762">152PE</text><text x="205" y="718">R359</text><text x="205" y="726">56k</text><text x="205" y="754">R360</text><text x="205" y="761">3.3k</text>

<!-- scopes -->
<use href="#sc" x="873" y="-35"/><use href="#sc" x="1041" y="-35"/><use href="#sc" x="1205" y="-35"/>
<use href="#sc" x="873" y="119"/><use href="#sc" x="1041" y="119"/><use href="#sc" x="1205" y="119"/>
<use href="#sc" x="873" y="273"/><use href="#sc" x="1041" y="273"/><use href="#sc" x="1205" y="273"/>
<use href="#sc" x="873" y="427"/><use href="#sc" x="1041" y="427"/><use href="#sc" x="1205" y="427"/>
<use href="#sc" x="873" y="582"/><use href="#sc" x="1041" y="582"/><use href="#sc" x="1205" y="582"/>

<g transform="translate(860 0) scale(.33333)" fill="none" stroke="#111" stroke-width="3.8">
<path d="M97 0V52H120V0M230 0V52H250V0M360 0V52H382V0"/>
<path d="M1037 60H1110L1114 0M1125 0L1130 60H1250L1252 0M1265 0L1268 60H1388L1392 0M1402 0L1405 60H1455"/>
<path d="M42 438H55V505L60 510 68 503 75 510H118V415L122 432 130 437H190V505L195 510 205 503 212 510H250V415L258 432 265 437H328V505L335 510 345 503 352 510H392V415L396 432 405 440H460"/>
<path d="M545 500Q565 500 573 525V690V580L590 565 596 540 600 600V565H622V510Q625 502 640 502H690Q708 502 710 525V690V580L727 565 732 540 738 600V565H758V510Q760 502 775 502H825Q845 502 847 525V690V580L865 565 870 540 875 600V565H895V510Q898 503 910 503H965"/>
<path d="M1037 523H1112Q1118 433 1121 433Q1125 440 1128 523H1248Q1252 433 1255 433Q1260 450 1265 523H1382Q1386 433 1390 433Q1395 450 1398 523H1456"/>
<path d="M42 985H118L126 895 133 985H252L260 895 268 985H388L396 895 404 985H460"/>
<path d="M547 1065H552L556 1112H562L568 1065H725L730 1068 735 1065H903L907 1112H913L918 1065H965"/>
<path d="M1037 985H1110V943H1127V985H1247V943H1263V985H1383V943H1400V985H1456"/>
</g>
<g transform="translate(860 400) scale(.33333)" fill="none">
<!-- 22 -->
<path d="M108 234H420" stroke="#888" stroke-width="30" stroke-dasharray="15 9"/><path d="M45 234H70" stroke="#888" stroke-width="30" stroke-dasharray="12 2"/>
<path d="M108 205H420" stroke="#111" stroke-width="28" stroke-dasharray="15 9"/><path d="M45 205H70" stroke="#111" stroke-width="28" stroke-dasharray="11 3"/>
<path d="M45 248V190H70V246H108V190H420V246H455V190" stroke="#111" stroke-width="3.4"/>
<!-- 23 -->
<path d="M600 216H930" stroke="#888" stroke-width="64" stroke-dasharray="11 12.5"/><path d="M552 216H570" stroke="#888" stroke-width="64" stroke-dasharray="7 5"/>
<path d="M590 145H930" stroke="#111" stroke-width="80" stroke-dasharray="14 9.5"/><path d="M547 145H565" stroke="#111" stroke-width="80"/>
<path d="M547 105H565V195H590V105H930V195H962V105M567 195V218M948 195V218" stroke="#111" stroke-width="3.4"/>
<!-- 24 -->
<path d="M1065 120H1385" stroke="#888" stroke-width="30" stroke-dasharray="14 10.4"/><path d="M1420 120H1455" stroke="#888" stroke-width="30" stroke-dasharray="14 9"/>
<path d="M1065 151H1385" stroke="#111" stroke-width="32" stroke-dasharray="14 10.4"/><path d="M1420 151H1455" stroke="#111" stroke-width="32" stroke-dasharray="14 9"/>
<path d="M1037 125H1065V167H1385V115H1410L1415 167H1455" stroke="#111" stroke-width="3.4"/>
<!-- 25 -->
<path d="M105 640H425" stroke="#888" stroke-width="16" stroke-dasharray="14 10"/><path d="M105 656H425" stroke="#111" stroke-width="18" stroke-dasharray="14 10"/><path d="M55 656H72" stroke="#111" stroke-width="16"/>
<path d="M42 665H75V645H105V665H425V638H455L458 665" stroke="#111" stroke-width="3.4"/>
<!-- 26,27 -->
<path d="M547 697L595 703L597 545H600L603 668L938 703L942 545H945L948 670H965" stroke="#111" stroke-width="3.8"/>
<path d="M1037 632L1160 650Q1168 632 1178 632L1295 650Q1303 632 1315 632L1428 650Q1435 632 1455 633" stroke="#111" stroke-width="3.8"/>
</g>

<!-- scope titles -->
<text class="w" x="874" y="115" textLength="127">16-WAVE (Q301  GATE-HDRV)</text>
<text class="w" x="1040" y="115" textLength="127">17-WAVE (Q302  GATE-HDRV)</text>
<text class="w" x="1204.7" y="105" textLength="155">18-WAVE (Q302  COLLECTOR-VCP),</text>
<text class="w" x="1219.5" y="115" textLength="139">NOTE: USING  OF  1001  PROBE</text>
<text class="w" x="874" y="269" textLength="108">19-WAVE (MODULATION)</text>
<text class="w" x="1040" y="269" textLength="59">20-WAVE (G1)</text>
<text class="w" x="1204.7" y="269" textLength="128">21-WAVE (U401-H.BLANKING)</text>
<text class="w" x="874" y="414" textLength="132">22-WAVE (U401-VIDEO  INPUT)</text>
<text class="w" x="889" y="424" textLength="103">FULL  WHITE  PATTERN</text>
<text class="w" x="1040" y="414" textLength="142">23-WAVE (U401-VIDEO  OUTPUT)</text>
<text class="w" x="1055.3" y="424" textLength="104">FULL  WHITE  PATTERN</text>
<text class="w" x="1204.7" y="414" textLength="128">24-WAVE (Q406  COLLECTOR</text>
<text class="w" x="1219.5" y="424" textLength="73">VIDEO  OUTPUT)</text>
<text class="w" x="874" y="578" textLength="124">25-WAVE (CRT  R-CATHODE)</text>
<text class="w" x="1040" y="567" textLength="139">26-WAVE (U201-6PIN  VERTICAL</text>
<text class="w" x="1055.3" y="577" textLength="40">OUTPUT)</text>
<text class="w" x="1204.7" y="567" textLength="139">27-WAVE (U201-1PIN  VERTICAL</text>
<text class="w" x="1219" y="577" textLength="30">INPUT)</text>

<!-- scope side freq -->
<text class="s" transform="translate(1023 59) rotate(-90)" textLength="76">C1  Freq  31.448kHz</text>
<text class="s" transform="translate(1191 59) rotate(-90)" textLength="76">C1  Freq  476.1Hz</text>
<text class="s" transform="translate(1355 59) rotate(-90)" textLength="76">C1  Freq  31.45kHz</text>
<text class="s" transform="translate(1023 213) rotate(-90)" textLength="76">C1  Freq  31.448kHz</text>
<text class="s" transform="translate(1191 213) rotate(-90)" textLength="76">C1  Freq  31.464kHz</text>
<text class="s" transform="translate(1355 213) rotate(-90)" textLength="76">C1  Freq  31.468kHz</text>
<text class="s" transform="translate(1023 368) rotate(-90)" textLength="76">C1  Freq  31.430kHz</text>
<text class="s" transform="translate(1191 368) rotate(-90)" textLength="68">C1  Freq  59.96Hz</text>
<text class="s" transform="translate(1355 368) rotate(-90)" textLength="76">C1  Freq  31.564kHz</text>
<text class="s" transform="translate(1191 677) rotate(-90)" textLength="68">C1  Freq  59.93Hz</text>

<!-- scope captions -->
<text class="s" x="884" y="88">1.00V</text><text class="s" x="938" y="88">M 10.0µS  Ch1</text><use href="#trg" x="994" y="80"/>
<text class="s" x="1050" y="88">1.00V</text><text class="s" x="1104" y="88">M 5.00ms  Ch1</text><use href="#trg" x="1160" y="80"/>
<text class="s" x="1214" y="88">5.00V</text><text class="s" x="1268.5" y="88">M 10.0µs  Ch1</text><use href="#trg" x="1326" y="80"/>
<text class="s" x="884" y="243">10.0V</text><text class="s" x="938" y="243">M 10.0µS  Ch1</text><use href="#trg" x="994" y="235"/>
<text class="s" x="1050" y="243">2.00V</text><text class="s" x="1104" y="243">M 10.0µs  Ch1</text><use href="#trg" x="1160" y="235"/>
<text class="s" x="1214" y="243">500V</text><text class="s" x="1268.5" y="243">M 10.0µs  Ch1</text><use href="#trg" x="1326" y="235"/>
<text class="s" x="884" y="397">100V</text><text class="s" x="938" y="397">M 10.0µS  Ch1</text><use href="#trg" x="994" y="388"/>
<text class="s" x="1050" y="397">20.0V</text><text class="s" x="1104" y="397">M 2.00ms  Ch1</text><use href="#trg" x="1160" y="388"/>
<text class="s" x="1214" y="397">5.00V</text><text class="s" x="1268.5" y="397">M 10.0µS  Ch1</text><use href="#trg" x="1326" y="388"/>
<text class="s" x="884" y="549">500mV</text><text class="s" x="938" y="551">M 2.00ms   Ch1</text><use href="#trg" x="994" y="543"/><text class="s" x="1000.5" y="551">8.0V</text>
<text class="s" x="1050" y="551">1.00V</text><text class="s" x="1104" y="551">M 2.00ms  Ch1</text><use href="#trg" x="1160" y="543"/>
<text class="s" x="1214" y="551">20.0V</text><text class="s" x="1268.5" y="551">M 2.00ms Ch1</text><use href="#trg" x="1326" y="543"/>
<text class="s" x="884" y="705">50.0V</text><text class="s" x="938" y="705">M 2.00ms  Ch1</text><use href="#trg" x="994" y="696"/>
<text class="s" x="1050" y="705">10.0V</text><text class="s" x="1104" y="705">M 2.00ms  Ch1</text><use href="#trg" x="1160" y="696"/>
<text class="s" x="1214" y="705">2.00V</text><text class="s" x="1268.5" y="705">M 5.00ms  Ch1</text><use href="#trg" x="1326" y="696"/>

<!-- section marks -->
<circle cx="1370" cy="501" r="19" fill="none" stroke="#d8132c" stroke-width="2"/>
<text class="c" x="1370" y="516" style="font-weight:bold;font-size:42px;fill:#d8132c">2</text>
<path d="M0 959.5H664M722 959.5H1347" stroke="#111" stroke-width="2.4"/>
<circle cx="694.5" cy="969.5" r="20.5" fill="#fff" stroke="#d8132c" stroke-width="1.8"/>
<text class="c" x="694.5" y="983" style="font-weight:bold;font-size:38px;fill:#d8132c">B</text>
<text x="1049" y="988" textLength="58" lengthAdjust="spacingAndGlyphs" style="font-size:19px;fill:#555">SERWIS</text>
<text x="1119" y="987" textLength="99" lengthAdjust="spacingAndGlyphs" style="font-family:'Liberation Serif',serif;font-weight:bold;font-style:italic;font-size:14px;fill:#111;stroke:#111;stroke-width:.4">ELEKTRONIKI</text>
<text x="-74" y="987" textLength="99" lengthAdjust="spacingAndGlyphs" style="font-family:'Liberation Serif',serif;font-weight:bold;font-style:italic;font-size:14px;fill:#111;stroke:#111;stroke-width:.4">ELEKTRONIKI</text>
</svg>
</body></html>
